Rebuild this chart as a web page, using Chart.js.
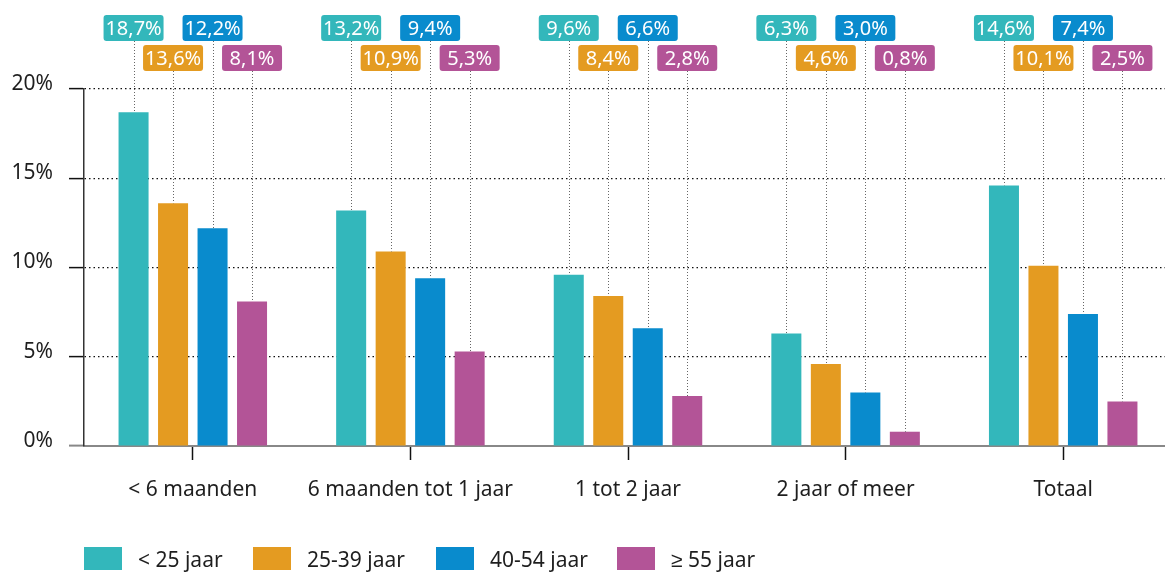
<!DOCTYPE html>
<html>
<head>
<meta charset="utf-8">
<script src="https://cdn.jsdelivr.net/npm/chart.js@4.4.1/dist/chart.umd.min.js"></script>
<style>
  html, body { margin: 0; padding: 0; background: #fff; overflow: hidden; }
  #wrap { width: 1172px; height: 572px; position: relative; }
</style>
</head>
<body>
<div id="wrap"><canvas id="c" width="1172" height="572"></canvas></div>
<script>
const categories = ['< 6 maanden', '6 maanden tot 1 jaar', '1 tot 2 jaar', '2 jaar of meer', 'Totaal'];
const seriesNames = ['< 25 jaar', '25-39 jaar', '40-54 jaar', '≥ 55 jaar'];
const under25 = [18.7, 13.2, 9.6, 6.3, 14.6];
const age25to39 = [13.6, 10.9, 8.4, 4.6, 10.1];
const age40to54 = [12.2, 9.4, 6.6, 3.0, 7.4];
const age55plus = [8.1, 5.3, 2.8, 0.8, 2.5];
const yTicks = [0, 5, 10, 15, 20];
const colors = ['#33b7bb', '#e49b21', '#098bcd', '#b35497'];

const FONT = '"Noto Sans", sans-serif';
const fmt = v => v.toFixed(1).replace('.', ',') + '%';

const labelPlugin = {
  id: 'boxLabels',
  afterDatasetsDraw(chart) {
    const ctx = chart.ctx;
    chart.data.datasets.forEach((ds, i) => {
      const meta = chart.getDatasetMeta(i);
      const boxTop = (i % 2 === 0) ? 15 : 45;
      const bw = 60, bh = 26;
      meta.data.forEach((el, j) => {
        const x = Math.round(el.x) + 0.5;
        ctx.save();
        ctx.strokeStyle = '#666';
        ctx.lineWidth = 1;
        ctx.setLineDash([1, 2]);
        ctx.beginPath();
        ctx.moveTo(x, boxTop + bh);
        ctx.lineTo(x, el.y);
        ctx.stroke();
        ctx.setLineDash([]);
        ctx.fillStyle = colors[i];
        ctx.beginPath();
        ctx.roundRect(el.x - bw / 2, boxTop, bw, bh, 3);
        ctx.fill();
        ctx.fillStyle = '#fff';
        ctx.font = '20px ' + FONT;
        ctx.textAlign = 'center';
        ctx.textBaseline = 'middle';
        ctx.fillText(fmt(ds.data[j]), el.x, boxTop + bh / 2 + 1);
        ctx.restore();
      });
    });
  }
};

const legendPlugin = {
  id: 'customLegend',
  afterDraw(chart) {
    const ctx = chart.ctx;
    const boxX = [84, 253, 436, 617];
    ctx.save();
    ctx.font = '21px ' + FONT;
    ctx.textBaseline = 'middle';
    ctx.textAlign = 'left';
    seriesNames.forEach((name, i) => {
      ctx.fillStyle = colors[i];
      ctx.fillRect(boxX[i], 547, 38, 23);
      ctx.fillStyle = '#1e1e1e';
      ctx.fillText(name, boxX[i] + 54, 561);
    });
    ctx.restore();
  }
};

new Chart(document.getElementById('c'), {
  type: 'bar',
  data: {
    labels: categories,
    datasets: [
      { label: seriesNames[0], data: under25, backgroundColor: colors[0] },
      { label: seriesNames[1], data: age25to39, backgroundColor: colors[1] },
      { label: seriesNames[2], data: age40to54, backgroundColor: colors[2] },
      { label: seriesNames[3], data: age55plus, backgroundColor: colors[3] }
    ]
  },
  options: {
    responsive: false,
    animation: false,
    categoryPercentage: 0.726,
    barPercentage: 0.76,
    layout: { padding: { top: 89, left: 0, right: 0, bottom: 0 } },
    plugins: { legend: { display: false }, tooltip: { enabled: false } },
    scales: {
      x: {
        afterFit(s) { s.height = 126; },
        grid: { display: true, drawOnChartArea: false, offset: false, tickLength: 14, tickColor: '#111', tickWidth: 1.5 },
        border: { display: true, color: '#888', width: 2 },
        ticks: { color: '#1e1e1e', font: { family: FONT, size: 21 }, padding: 17 }
      },
      y: {
        min: 0, max: 20,
        afterFit(s) { s.width = 84; },
        afterBuildTicks(s) { s.ticks = yTicks.map(v => ({ value: v })); },
        grid: {
          color: c => c.tick && c.tick.value === 0 ? 'rgba(0,0,0,0)' : '#111',
          lineWidth: 1.2,
          tickLength: 15,
          tickColor: c => c.tick && c.tick.value === 0 ? '#888' : '#111',
          tickWidth: c => c.tick && c.tick.value === 0 ? 2 : 1.5
        },
        border: { display: true, color: '#333', width: 1.5, dash: [1.5, 3] },
        ticks: {
          color: '#1e1e1e', font: { family: FONT, size: 21 }, padding: 16, labelOffset: -5,
          callback: v => v + '%'
        }
      }
    }
  },
  plugins: [labelPlugin, legendPlugin]
});
</script>
</body>
</html>
